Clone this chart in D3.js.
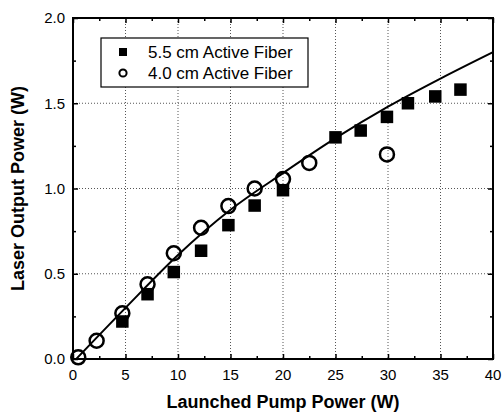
<!DOCTYPE html>
<html lang="en">
<head>
  <meta charset="UTF-8">
  <title>Laser Output vs Pump Power</title>
  <script src="https://d3js.org/d3.v7.min.js"></script>
  <style>
    body { margin: 0; background: #fff; }
    text { font-family: "Liberation Sans", Arial, sans-serif; fill: #000; }
    .tick-label { font-size: 15px; }
    .axis-title { font-size: 18px; font-weight: bold; }
    .legend text { font-size: 17px; }
  </style>
</head>
<body>
  <div id="chart"></div>
  <script>
    // 5.5 cm active fiber (filled squares)
    const pump55 = [4.7, 7.1, 9.6, 12.2, 14.8, 17.3, 20.0, 25.0, 27.4, 29.9, 31.9, 34.5, 36.9];
    const out55 = [0.22, 0.38, 0.51, 0.635, 0.785, 0.90, 0.99, 1.30, 1.34, 1.42, 1.50, 1.54, 1.58];

    // 4.0 cm active fiber (open circles)
    const pump40 = [0.5, 2.25, 4.7, 7.1, 9.6, 12.2, 14.8, 17.3, 20.0, 22.5, 29.9];
    const out40 = [0.01, 0.107, 0.268, 0.438, 0.62, 0.77, 0.897, 1.0, 1.055, 1.15, 1.20];

    // fitted curve
    const fitX = [0.3, 5, 10, 15, 20, 25, 30, 35, 40];
    const fitY = [0.0, 0.30, 0.61, 0.875, 1.09, 1.295, 1.48, 1.645, 1.80];

    const xTicks = [0, 5, 10, 15, 20, 25, 30, 35, 40];
    const yTicks = [0.0, 0.5, 1.0, 1.5, 2.0];
    const seriesNames = ["5.5 cm Active Fiber", "4.0 cm Active Fiber"];

    const W = 502, H = 415;
    const margin = { top: 18, right: 9, bottom: 56, left: 73 };
    const width = W - margin.left - margin.right;
    const height = H - margin.top - margin.bottom;

    const svg = d3.select("#chart").append("svg")
      .attr("width", W)
      .attr("height", H);

    const g = svg.append("g")
      .attr("transform", `translate(${margin.left},${margin.top})`);

    const x = d3.scaleLinear().domain([0, 40]).range([0, width]);
    const y = d3.scaleLinear().domain([0, 2]).range([height, 0]);

    // dotted grid
    g.selectAll(".vgrid")
      .data(xTicks.filter(d => d > 0 && d < 40))
      .enter().append("line")
      .attr("x1", d => x(d)).attr("x2", d => x(d))
      .attr("y1", 0).attr("y2", height)
      .attr("stroke", "#555").attr("stroke-width", 1)
      .attr("stroke-dasharray", "1,2");

    g.selectAll(".hgrid")
      .data(yTicks.filter(d => d > 0 && d < 2))
      .enter().append("line")
      .attr("x1", 0).attr("x2", width)
      .attr("y1", d => y(d)).attr("y2", d => y(d))
      .attr("stroke", "#555").attr("stroke-width", 1)
      .attr("stroke-dasharray", "1,2");

    // ticks, inward on all four sides
    const xMinor = d3.range(2.5, 40, 5);
    const yMinor = d3.range(0.25, 2, 0.5);
    const axes = [
      { axis: d3.axisBottom(x), t: `translate(0,${height})`, major: xTicks, minor: xMinor },
      { axis: d3.axisTop(x), t: "translate(0,0)", major: xTicks, minor: xMinor },
      { axis: d3.axisLeft(y), t: "translate(0,0)", major: yTicks, minor: yMinor },
      { axis: d3.axisRight(y), t: `translate(${width},0)`, major: yTicks, minor: yMinor }
    ];
    axes.forEach(a => {
      g.append("g").attr("transform", a.t)
        .call(a.axis.tickValues(a.major).tickSize(-5).tickFormat(""))
        .call(s => s.select(".domain").remove())
        .call(s => s.selectAll("line").attr("stroke-width", 1.5));
      g.append("g").attr("transform", a.t)
        .call(a.axis.tickValues(a.minor).tickSize(-3).tickFormat(""))
        .call(s => s.select(".domain").remove())
        .call(s => s.selectAll("line").attr("stroke-width", 1.5));
    });

    // tick labels
    g.selectAll(".xlab")
      .data(xTicks)
      .enter().append("text")
      .attr("class", "tick-label")
      .attr("x", d => x(d))
      .attr("y", height + 21)
      .attr("text-anchor", "middle")
      .text(d => d);

    g.selectAll(".ylab")
      .data(yTicks)
      .enter().append("text")
      .attr("class", "tick-label")
      .attr("x", -8)
      .attr("y", d => y(d))
      .attr("dy", "0.36em")
      .attr("text-anchor", "end")
      .text(d => d.toFixed(1));

    // frame
    g.append("rect")
      .attr("width", width).attr("height", height)
      .attr("fill", "none").attr("stroke", "#000").attr("stroke-width", 2);

    // fit curve
    const line = d3.line()
      .x(d => x(d[0]))
      .y(d => y(d[1]))
      .curve(d3.curveMonotoneX);

    g.append("path")
      .datum(fitX.map((v, i) => [v, fitY[i]]))
      .attr("d", line)
      .attr("fill", "none")
      .attr("stroke", "#000")
      .attr("stroke-width", 2);

    // squares
    const sq = 12.5;
    g.selectAll(".sq")
      .data(pump55.map((v, i) => [v, out55[i]]))
      .enter().append("rect")
      .attr("x", d => x(d[0]) - sq / 2)
      .attr("y", d => y(d[1]) - sq / 2)
      .attr("width", sq).attr("height", sq)
      .attr("fill", "#000");

    // circles
    g.selectAll(".ci")
      .data(pump40.map((v, i) => [v, out40[i]]))
      .enter().append("circle")
      .attr("cx", d => x(d[0]))
      .attr("cy", d => y(d[1]))
      .attr("r", 7)
      .attr("fill", "none")
      .attr("stroke", "#000")
      .attr("stroke-width", 2.5);

    // legend
    const legend = svg.append("g").attr("class", "legend")
      .attr("transform", "translate(101,38)");
    legend.append("rect")
      .attr("width", 207).attr("height", 49)
      .attr("fill", "#fff").attr("stroke", "#000").attr("stroke-width", 1.2);
    legend.append("rect")
      .attr("x", 18).attr("y", 10).attr("width", 8).attr("height", 8)
      .attr("fill", "#000");
    legend.append("circle")
      .attr("cx", 22).attr("cy", 35).attr("r", 3.6)
      .attr("fill", "none").attr("stroke", "#000").attr("stroke-width", 2);
    legend.selectAll(".lt")
      .data(seriesNames)
      .enter().append("text")
      .attr("x", 47)
      .attr("y", (d, i) => 14 + i * 21)
      .attr("dy", "0.36em")
      .text(d => d);

    // axis titles
    svg.append("text")
      .attr("class", "axis-title")
      .attr("x", margin.left + width / 2)
      .attr("y", 408)
      .attr("text-anchor", "middle")
      .text("Launched Pump Power (W)");

    svg.append("text")
      .attr("class", "axis-title")
      .attr("transform", `translate(24,${margin.top + height / 2}) rotate(-90)`)
      .attr("text-anchor", "middle")
      .text("Laser Output Power (W)");
  </script>
</body>
</html>
